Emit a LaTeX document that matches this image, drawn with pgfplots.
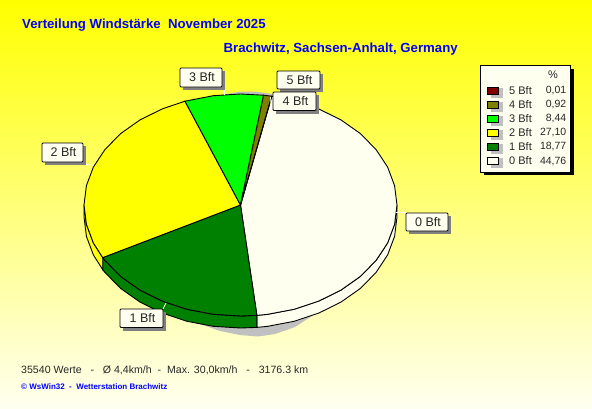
\documentclass[border=0pt]{standalone}
\usepackage{pgfplots}
\pgfplotsset{compat=1.18}
\usepackage{fontspec}
\setmainfont{Liberation Sans}
\definecolor{ivory}{HTML}{FFFFF0}
\definecolor{bft5}{HTML}{800000}
\definecolor{bft4}{HTML}{808000}
\definecolor{bft3}{HTML}{00FF00}
\definecolor{bft2}{HTML}{FFFF00}
\definecolor{bft1}{HTML}{008000}
\definecolor{shadowgray}{HTML}{C0C0C0}
\definecolor{labelshadow}{HTML}{808080}
\newcommand{\lbl}[5]{%
  \fill[labelshadow] (axis cs:#1+3,#2+3) rectangle (axis cs:#3+3,#4+3);
  \draw[fill=ivory,draw=black,line width=0.9pt,rounded corners=1pt] (axis cs:#1,#2) rectangle (axis cs:#3,#4);
  \node[font=\fontsize{12.5}{14}\selectfont,text=black!85] at (axis cs:{(#1+#3)/2+1},{(#2+#4)/2}) {#5};
}
\newcommand{\legrow}[4]{%
  \fill[shadowgray] (axis cs:491,#1-3) rectangle (axis cs:503,#1+7);
  \draw[fill=#2,draw=black,line width=0.9pt] (axis cs:487.5,#1-3.5) rectangle (axis cs:498.5,#1+3.5);
  \node[anchor=west,inner sep=0pt,font=\fontsize{11}{13}\selectfont,text=black!85] at (axis cs:509,#1) {#3};
  \node[anchor=east,inner sep=0pt,font=\fontsize{10.5}{13}\selectfont,text=black!85] at (axis cs:566.5,#1) {#4};
}
\begin{document}
\begin{tikzpicture}
\begin{axis}[
  scale only axis, width=592pt, height=408pt,
  xmin=0, xmax=592, ymin=0, ymax=408, y dir=reverse,
  axis lines=none, clip=true,
]
% background
\fill[top color=yellow, bottom color=ivory, shading angle=0] (axis cs:0,0) rectangle (axis cs:592,408);

% shadow of the pie
\addplot[fill=shadowgray,draw=none] coordinates {(185,318)(200,324)(220,331)(240,335)(258,336.5)(275,334)(295,327)(312,316)(257,300)} --cycle;
\addplot[fill=shadowgray,draw=none] coordinates {(222,95)(240,91.5)(255,91.5)(272,94)(280,100)(240,100)} --cycle;

% side walls
\addplot[fill=ivory,draw=black,line width=0.9pt] coordinates {(397,205)(394.6,224.3)(387.6,243)(376,260.5)(360.4,276.4)(341.1,290)(318.75,301.1)(294,309.3)(267.7,314.3)(256.9,315.4)(256.9,327.4)(267.7,326.3)(294,321.3)(318.75,313.1)(341.1,302)(360.4,288.4)(376,272.5)(387.6,255)(394.6,236.3)(397,217)} --cycle;
\addplot[fill=bft1,draw=black,line width=0.9pt] coordinates {(256.9,315.4)(240.5,316)(213.3,314.3)(187,309.3)(162.25,301.1)(139.9,290)(120.6,276.4)(105,260.5)(102.7,257.6)(102.7,269.6)(105,272.5)(120.6,288.4)(139.9,302)(162.25,313.1)(187,321.3)(213.3,326.3)(240.5,328)(256.9,327.4)} --cycle;
\addplot[fill=bft2,draw=black,line width=0.9pt] coordinates {(102.7,257.6)(93.4,243)(86.4,224.3)(84,205)(84,217)(86.4,236.3)(93.4,255)(102.7,269.6)} --cycle;

% top face: 0 Bft 44,76 / 1 Bft 18,77 / 2 Bft 27,10 / 3 Bft 8,44 / 4 Bft 0,92 / 5 Bft 0,01
\addplot[fill=ivory,draw=black,line width=0.9pt] coordinates {(240.5,205)(271.7,96.2)(294,100.7)(318.75,108.9)(341.1,120)(360.4,133.6)(376,149.5)(387.6,167)(394.6,185.7)(397,205)(394.6,224.3)(387.6,243)(376,260.5)(360.4,276.4)(341.1,290)(318.75,301.1)(294,309.3)(267.7,314.3)(256.9,315.4)} --cycle;
\addplot[fill=bft1,draw=black,line width=0.9pt] coordinates {(240.5,205)(256.9,315.4)(240.5,316)(213.3,314.3)(187,309.3)(162.25,301.1)(139.9,290)(120.6,276.4)(105,260.5)(102.7,257.6)} --cycle;
\addplot[fill=bft2,draw=black,line width=0.9pt] coordinates {(240.5,205)(102.7,257.6)(93.4,243)(86.4,224.3)(84,205)(86.4,185.7)(93.4,167)(105,149.5)(120.6,133.6)(139.9,120)(162.25,108.9)(185,101.2)} --cycle;
\addplot[fill=bft3,draw=black,line width=0.9pt] coordinates {(240.5,205)(185,101.2)(213.3,95.7)(240.5,94)(263.6,95.2)} --cycle;
\addplot[fill=bft4,draw=black,line width=0.9pt] coordinates {(240.5,205)(263.6,95.2)(271.7,96.2)} --cycle;
\addplot[fill=bft5,draw=black,line width=0.9pt] coordinates {(240.5,205)(271.7,96.2)(271.8,96.2)} --cycle;

% leader lines
\addplot[white,line width=0.8pt] coordinates {(224,88)(224,95)};
\addplot[white,line width=0.8pt] coordinates {(84,164.5)(94,165)};
\addplot[white,line width=0.8pt] coordinates {(166,303)(163,309)};
\addplot[white,line width=0.8pt] coordinates {(396,212.5)(406,212.5)};
\addplot[white,line width=0.8pt] coordinates {(270.5,97)(271,104)};

% labels
\lbl{180}{68}{222}{87}{3 Bft}
\lbl{277}{71}{320}{89}{5 Bft}
\lbl{273}{92}{316}{110.5}{4 Bft}
\lbl{42}{143}{83}{162}{2 Bft}
\lbl{120}{309}{163}{327.5}{1 Bft}
\lbl{406}{213}{448}{231}{0 Bft}

% legend
\fill[black] (axis cs:484,69) rectangle (axis cs:574,175);
\draw[fill=ivory,draw=black,line width=0.9pt] (axis cs:480.5,65.5) rectangle (axis cs:570.5,172);
\node[font=\fontsize{11}{13}\selectfont,text=black!85] at (axis cs:553,75) {\%};
\legrow{91}{bft5}{5 Bft}{0,01}
\legrow{105}{bft4}{4 Bft}{0,92}
\legrow{119}{bft3}{3 Bft}{8,44}
\legrow{133}{bft2}{2 Bft}{27,10}
\legrow{147}{bft1}{1 Bft}{18,77}
\legrow{161}{ivory}{0 Bft}{44,76}

% titles
\node[anchor=west,inner sep=0pt,text=blue,font=\fontsize{13.2}{15}\bfseries\selectfont] at (axis cs:22,25.5) {Verteilung Windstärke\ \ November 2025};
\node[anchor=west,inner sep=0pt,text=blue,font=\fontsize{13.2}{15}\bfseries\selectfont] at (axis cs:223.5,49.5) {Brachwitz, Sachsen-Anhalt, Germany};
\node[anchor=west,inner sep=0pt,font=\fontsize{10.6}{13}\selectfont,text=black!85] at (axis cs:21,370) {35540 Werte\ \ \ -\ \ \ Ø 4,4km/h\ \ -\ \ Max. 30,0km/h\ \ \ -\ \ \ 3176.3 km};
\node[anchor=west,inner sep=0pt,text=blue,font=\fontsize{8}{10}\bfseries\selectfont] at (axis cs:21,387) {© WsWin32\ \ -\ \ Wetterstation Brachwitz};
\end{axis}
\end{tikzpicture}
\end{document}
